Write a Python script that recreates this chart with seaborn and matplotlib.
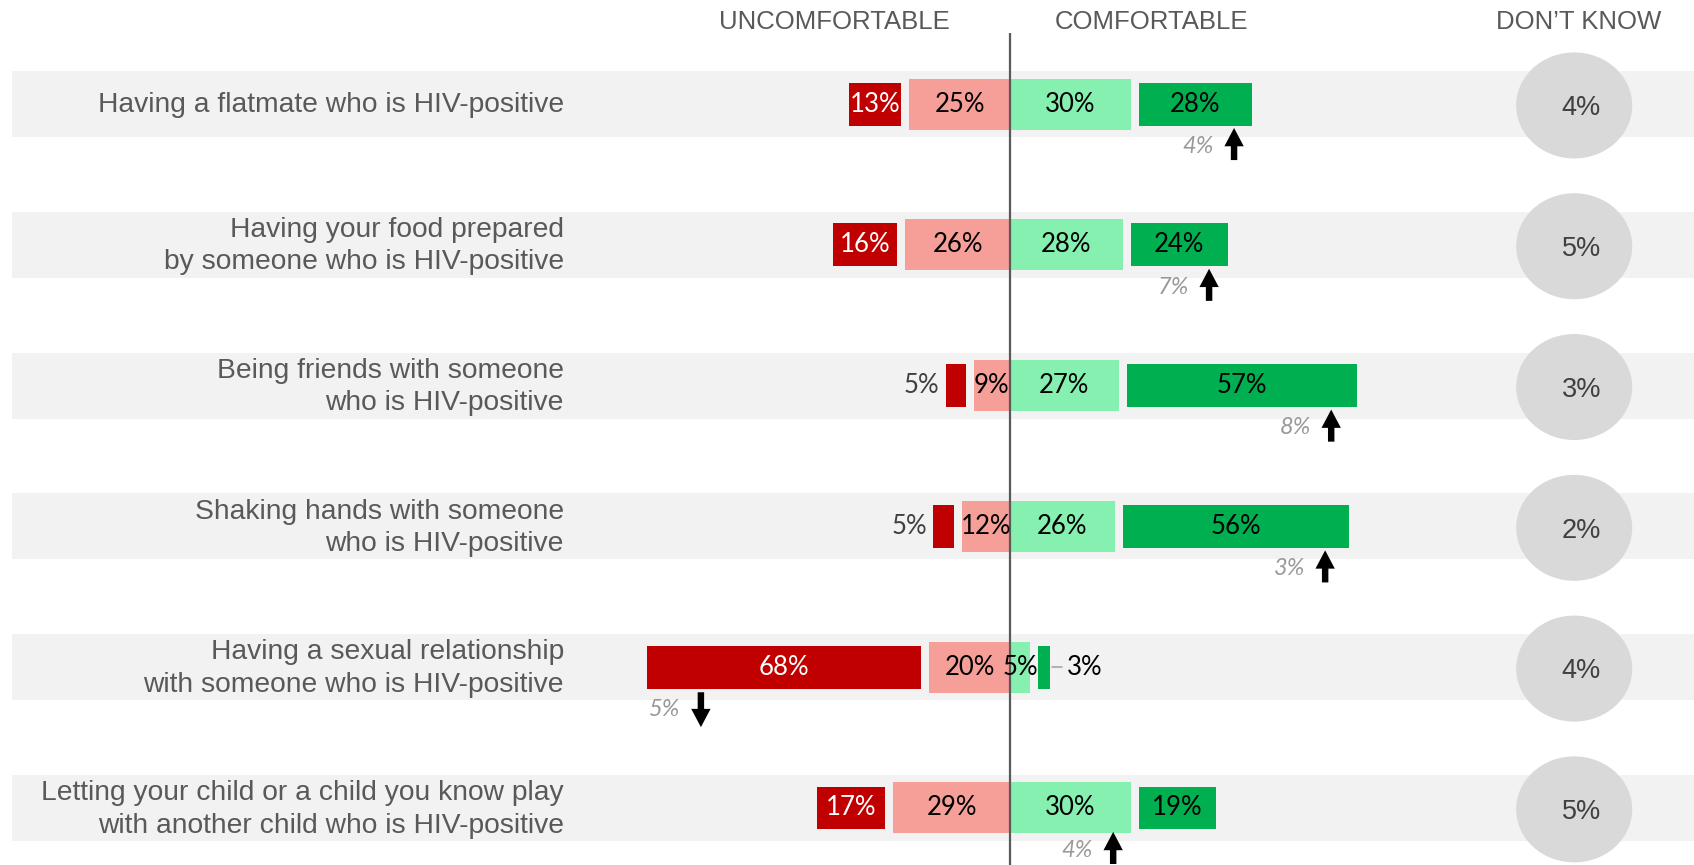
import numpy as np
import pandas as pd
import matplotlib
matplotlib.use("Agg")
import matplotlib.pyplot as plt
import seaborn as sns
from matplotlib.patches import Ellipse

# Datos
items = [
    "Having a flatmate who is HIV-positive",
    "Having your food prepared\nby someone who is HIV-positive",
    "Being friends with someone\nwho is HIV-positive",
    "Shaking hands with someone\nwho is HIV-positive",
    "Having a sexual relationship\nwith someone who is HIV-positive",
    "Letting your child or a child you know play\nwith another child who is HIV-positive",
]
very_uncomf = [13, 16, 5, 5, 68, 17]
fairly_uncomf = [25, 26, 9, 12, 20, 29]
fairly_comf = [30, 28, 27, 26, 5, 30]
very_comf = [28, 24, 57, 56, 3, 19]
dont_know = [4, 5, 3, 2, 4, 5]
change_txt = ["4%", "7%", "8%", "3%", "5%", "4%"]
change_dir = ["up", "up", "up", "up", "down", "up"]
change_at = [55.6, 49.4, 79.7, 78.2, -76.7, 25.6]
headers = ["UNCOMFORTABLE", "COMFORTABLE", "DON\u2019T KNOW"]

df = pd.DataFrame({"item": items, "vu": very_uncomf, "fu": fairly_uncomf,
                   "fc": fairly_comf, "vc": very_comf, "dk": dont_know})
df["neg_fu"] = -df["fu"]

# Colores
c_dred = "#C00000"
c_lred = "#F69F98"
c_lgreen = "#86F0B1"
c_dgreen = "#00B050"
c_band = "#F2F2F2"
c_text = "#595959"

GAP = 2
sns.set_theme(style="white")
plt.rcParams["font.family"] = ["Liberation Sans", "DejaVu Sans"]

fig = plt.figure(figsize=(16.94, 8.65), dpi=100)
ax = fig.add_axes([0, 0, 1, 1])

rows = np.arange(len(items))

# Franjas de fondo
for r in rows:
    ax.axhspan(r - 0.234, r + 0.234, xmin=12 / 1694, xmax=1, color=c_band, lw=0, zorder=0)

# Barras claras (desde el centro)
sns.barplot(data=df, x="neg_fu", y="item", orient="h", color=c_lred, width=0.362,
            saturation=1, linewidth=0, errorbar=None, ax=ax, zorder=2)
sns.barplot(data=df, x="fc", y="item", orient="h", color=c_lgreen, width=0.362,
            saturation=1, linewidth=0, errorbar=None, ax=ax, zorder=2)

# Barras oscuras (separadas)
ax.barh(rows, -df["vu"], left=-(df["fu"] + GAP), height=0.305, color=c_dred, lw=0, zorder=2)
ax.barh(rows, df["vc"], left=df["fc"] + GAP, height=0.305, color=c_dgreen, lw=0, zorder=2)

# Línea central
ax.vlines(0, -0.504, 5.5, color="#595959", lw=1.6, zorder=3)

lab = dict(family=["Lato", "DejaVu Sans"], fontsize=18.5, va="center", zorder=4)
for r in rows:
    vu, fu, fc, vc = df.loc[r, ["vu", "fu", "fc", "vc"]]
    ax.text(-fu / 2, r, f"{fu}%", ha="center", color="black", **lab)
    ax.text(fc / 2, r, f"{fc}%", ha="center", color="black", **lab)
    left_d = -(fu + GAP)
    if vu > 6:
        ax.text(left_d - vu / 2, r, f"{vu}%", ha="center", color="white", **lab)
    else:
        ax.text(left_d - vu - 1.5, r, f"{vu}%", ha="right", color="#404040", **lab)
    start_g = fc + GAP
    if vc > 6:
        ax.text(start_g + vc / 2, r, f"{vc}%", ha="center", color="black", **lab)
    else:
        end_g = start_g + vc
        ax.plot([end_g + 0.5, end_g + 3], [r, r], color="#A6A6A6", lw=1.2, zorder=3)
        ax.text(end_g + 4, r, f"{vc}%", ha="left", color="black", **lab)

    # Flecha de cambio
    x = change_at[r]
    if change_dir[r] == "up":
        ax.arrow(x, r + 0.398, 0, -0.228, width=1.6, head_width=4.8, head_length=0.13,
                 length_includes_head=True, color="black", lw=0, zorder=4)
    else:
        ax.arrow(x, r + 0.178, 0, 0.248, width=1.6, head_width=4.8, head_length=0.13,
                 length_includes_head=True, color="black", lw=0, zorder=4)
    ax.text(x - 5.0, r + 0.30, change_txt[r], ha="right", va="center", color="#999999",
            family=["Lato", "DejaVu Sans"], style="italic", fontsize=17, zorder=4)

    # No sabe
    ax.add_patch(Ellipse((140.0, r + 0.01), 28.8, 0.753, color="#D9D9D9", lw=0, zorder=2))
    ax.text(141.8, r + 0.03, f"{df.loc[r, 'dk']}%", ha="center", va="center",
            color="#404040", fontsize=19.5, zorder=4)

    # Etiqueta de fila
    ax.text(-110.7, r + 0.01, items[r], ha="right", va="center", color=c_text, fontsize=20.3,
            linespacing=1.32, zorder=4)

for h, hx in zip(headers, [-43.7, 35.2, 141.2]):
    ax.text(hx, -0.585, h, ha="center", va="center", color=c_text, fontsize=18.5)

ax.set_xlim(-1010 / 4.03, (1694 - 1010) / 4.03)
ax.set_ylim(5.405, -0.739)
ax.set_axis_off()

fig.savefig("out.png", dpi=100)
